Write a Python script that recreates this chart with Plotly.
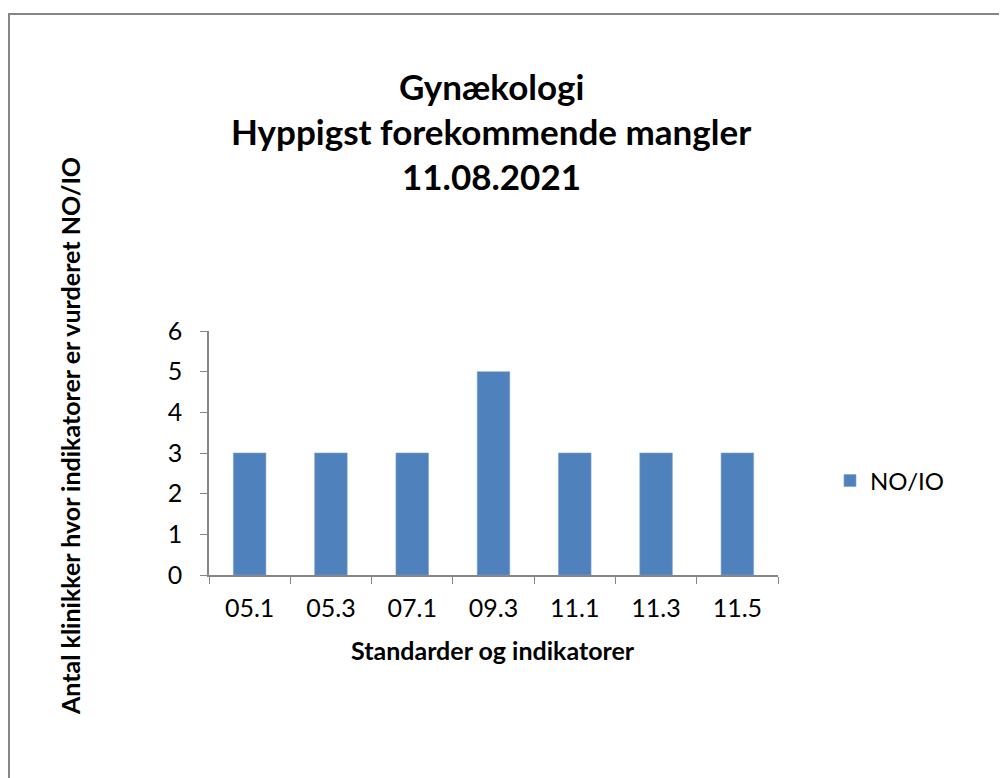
import plotly.graph_objects as go

# data
categories = ["05.1", "05.3", "07.1", "09.3", "11.1", "11.3", "11.5"]
values = [3, 3, 3, 5, 3, 3, 3]
series_name = "NO/IO"

title_lines = ["Gynækologi", "Hyppigst forekommende mangler", "11.08.2021"]
x_title = "Standarder og indikatorer"
y_title = "Antal klinikker hvor indikatorer er vurderet NO/IO"

FONT = "Lato"
AXIS_GREY = "#868686"
BAR_BLUE = "#4f81bd"

# plot area in screen pixels: x 209..778, y 331..575
# (the page body adds an 8px offset, taken off the margins)
W, H = 1007, 778
OFF = 8
L, R, T, B = 209, 778, 331, 575


def px_x(p):
    return (p - L) / (R - L)


def px_y(p):
    return (B - p) / (B - T)


fig = go.Figure()
fig.add_trace(go.Bar(x=categories, y=values, name=series_name,
                     marker=dict(color=BAR_BLUE, line=dict(color="#7a9fd0", width=0.6))))

fig.update_layout(
    width=W, height=H,
    margin=dict(l=L - OFF, r=W - (R - OFF), t=T - OFF, b=H - (B - OFF)),
    plot_bgcolor="white", paper_bgcolor="white",
    font=dict(family=FONT, size=25, color="#000000"),
    bargap=0.6,
    showlegend=True,
    legend=dict(x=px_x(830), y=px_y(481), xanchor="left", yanchor="middle",
                font=dict(size=24), bgcolor="rgba(0,0,0,0)"),
)

fig.update_xaxes(type="category", tickson="boundaries", ticks="outside", ticklen=7,
                 tickcolor=AXIS_GREY, showline=True, linecolor=AXIS_GREY, linewidth=1.5,
                 showgrid=False, ticklabelstandoff=10, tickfont=dict(size=25))
fig.update_yaxes(range=[0, 6], dtick=1, ticks="outside", ticklen=7, tickcolor=AXIS_GREY,
                 showline=True, linecolor=AXIS_GREY, linewidth=1.5, showgrid=False,
                 zeroline=False, ticklabelstandoff=13, tickfont=dict(size=25))

# title lines
for i, line in enumerate(title_lines):
    fig.add_annotation(text=f"<b>{line}</b>", x=px_x(491), y=px_y(86 + 45 * i),
                       xref="paper", yref="paper", showarrow=False,
                       xanchor="center", yanchor="middle", font=dict(size=35))

# axis titles
fig.add_annotation(text=f"<b>{x_title}</b>", x=px_x(493), y=px_y(650),
                   xref="paper", yref="paper", showarrow=False,
                   xanchor="center", yanchor="middle", font=dict(size=25))
fig.add_annotation(text=f"<b>{y_title}</b>", x=px_x(70), y=px_y(436),
                   xref="paper", yref="paper", showarrow=False, textangle=-90,
                   xanchor="center", yanchor="middle", font=dict(size=25))

# chart border
fig.add_shape(type="rect", xref="paper", yref="paper",
              x0=px_x(9), x1=px_x(1006), y0=px_y(820), y1=px_y(14),
              line=dict(color=AXIS_GREY, width=2), layer="below")

fig.write_html("out.html")
